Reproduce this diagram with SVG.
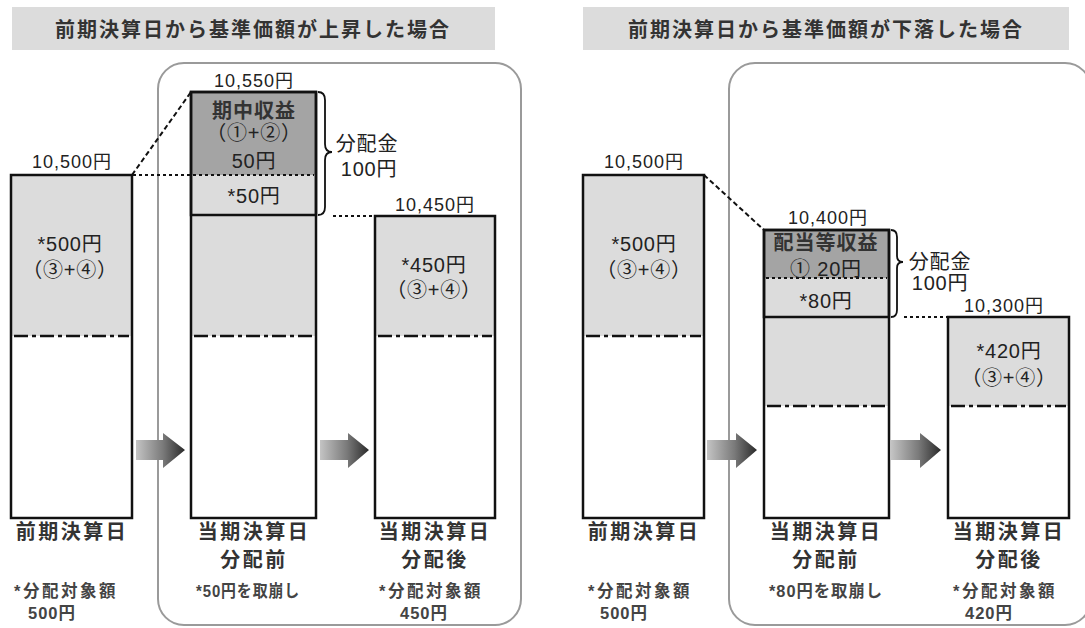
<svg xmlns="http://www.w3.org/2000/svg" width="1085" height="628" viewBox="0 0 1085 628">
<defs>
<linearGradient id="ag" x1="0" y1="0" x2="1" y2="0">
<stop offset="0" stop-color="#c4c4c4"/>
<stop offset="0.55" stop-color="#7a7a7a"/>
<stop offset="1" stop-color="#2a2a2a"/>
</linearGradient>
<style>
text{font-family:"Liberation Sans","Noto Sans CJK JP",sans-serif;fill:#222;text-anchor:middle}
.title{font-size:20px;font-weight:bold;letter-spacing:2px;fill:#333}
.num{font-size:18px;letter-spacing:1px}
.lbl{font-size:20px;font-weight:bold;letter-spacing:1px;fill:#333}
.in{font-size:20px;letter-spacing:0.8px}
.bot{font-size:20px;font-weight:bold;letter-spacing:2.5px;fill:#333}
.note{font-size:16.5px;font-weight:bold;letter-spacing:2.5px;fill:#444;text-anchor:start}
.nn{font-size:16.5px;font-weight:bold;letter-spacing:1px;fill:#444;text-anchor:start}
.tbar{fill:#dcdcdc}
.panel{fill:#fff;stroke:#9a9a9a;stroke-width:2}
.lg{fill:#dcdcdc}
.dg{fill:#a4a4a4}
.box{fill:none;stroke:#111;stroke-width:2.5}
.dd{stroke:#111;stroke-width:2.5;stroke-dasharray:14 4 4 4}
.dot{stroke:#111;stroke-width:2;stroke-dasharray:3 3;fill:none}
.dash{stroke:#111;stroke-width:2;stroke-dasharray:5 3;fill:none}
.brace{fill:none;stroke:#111;stroke-width:1.8}
.arrow{fill:url(#ag)}
</style>
</defs>

<g id="title-left"><rect class="tbar" x="12" y="7" width="483" height="43"/><text class="title" x="253" y="37">前期決算日から基準価額が上昇した場合</text></g>
<g id="title-right"><rect class="tbar" x="583" y="7" width="486" height="43"/><text class="title" x="826" y="37">前期決算日から基準価額が下落した場合</text></g>

<g id="panel-left"><rect class="panel" x="158" y="63" width="363" height="562" rx="26"/></g>
<g id="panel-right"><rect class="panel" x="729" y="63" width="362" height="562" rx="26"/></g>

<!-- LEFT SIDE -->
<g id="L-prev">
<rect class="lg" x="11" y="175" width="121" height="161"/>
<rect fill="#fff" x="11" y="336" width="121" height="182"/>
<line class="dd" x1="14" y1="336" x2="129" y2="336"/>
<rect class="box" x="11" y="175" width="121" height="343"/>
<text class="num" x="72" y="168">10,500円</text>
<text class="in" x="70" y="251">*500円</text>
<text class="in" x="70" y="277">（③+④）</text>
<text class="bot" x="72" y="539">前期決算日</text>
<text class="note" x="14" y="597">*分配対象額</text>
<text class="nn" x="28" y="619">500円</text>
</g>

<g id="L-before">
<rect class="dg" x="191" y="92" width="125" height="83"/>
<rect class="lg" x="191" y="175" width="125" height="161"/>
<rect fill="#fff" x="191" y="336" width="125" height="182"/>
<line class="dot" x1="193" y1="175" x2="314" y2="175"/>
<line class="dd" x1="194" y1="336" x2="313" y2="336"/>
<rect class="box" x="191" y="92" width="125" height="426"/>
<rect class="box" x="191" y="92" width="125" height="123"/>
<text class="num" x="254" y="87">10,550円</text>
<text class="lbl" x="254" y="118">期中収益</text>
<text class="in" x="254" y="140">（①+②）</text>
<text class="in" x="254" y="168">50円</text>
<text class="in" x="254" y="203">*50円</text>
<path class="brace" d="M318,92 Q325,92 325,100 L325,144 Q325,152 332,152 Q325,152 325,160 L325,207 Q325,215 318,215"/>
<text class="in" x="367" y="151">分配金</text>
<text class="in" x="369" y="176">100円</text>
<text class="bot" x="254" y="539">当期決算日</text>
<text class="bot" x="254" y="567">分配前</text>
<text class="nn" x="196" y="597" textLength="104" lengthAdjust="spacingAndGlyphs">*50円を取崩し</text>
</g>

<g id="L-after">
<rect class="lg" x="375" y="216" width="120" height="120"/>
<rect fill="#fff" x="375" y="336" width="120" height="182"/>
<line class="dd" x1="378" y1="336" x2="492" y2="336"/>
<rect class="box" x="375" y="216" width="120" height="302"/>
<text class="num" x="435" y="211">10,450円</text>
<text class="in" x="434" y="272">*450円</text>
<text class="in" x="434" y="297">（③+④）</text>
<text class="bot" x="435" y="539">当期決算日</text>
<text class="bot" x="435" y="567">分配後</text>
<text class="note" x="379" y="597">*分配対象額</text>
<text class="nn" x="400" y="619">450円</text>
</g>

<!-- RIGHT SIDE -->
<g id="R-prev">
<rect class="lg" x="583" y="175" width="121" height="161"/>
<rect fill="#fff" x="583" y="336" width="121" height="182"/>
<line class="dd" x1="586" y1="336" x2="701" y2="336"/>
<rect class="box" x="583" y="175" width="121" height="343"/>
<text class="num" x="644" y="168">10,500円</text>
<text class="in" x="644" y="251">*500円</text>
<text class="in" x="644" y="277">（③+④）</text>
<text class="bot" x="644" y="539">前期決算日</text>
<text class="note" x="588" y="597">*分配対象額</text>
<text class="nn" x="600" y="619">500円</text>
</g>

<g id="R-before">
<rect class="dg" x="764" y="230" width="125" height="48"/>
<rect class="lg" x="764" y="278" width="125" height="128"/>
<rect fill="#fff" x="764" y="406" width="125" height="112"/>
<line class="dot" x1="766" y1="278" x2="887" y2="278"/>
<line class="dd" x1="767" y1="406" x2="886" y2="406"/>
<rect class="box" x="764" y="230" width="125" height="288"/>
<rect class="box" x="764" y="230" width="125" height="87"/>
<text class="num" x="828" y="224">10,400円</text>
<text class="lbl" x="826" y="250">配当等収益</text>
<text class="in" x="826" y="276">①  20円</text>
<text class="in" x="826" y="308">*80円</text>
<path class="brace" d="M891,230 Q897,230 897,237 L897,256 Q897,262 903,262 Q897,262 897,268 L897,310 Q897,317 891,317"/>
<text class="in" x="940" y="269">分配金</text>
<text class="in" x="940" y="290">100円</text>
<text class="bot" x="826" y="539">当期決算日</text>
<text class="bot" x="826" y="567">分配前</text>
<text class="nn" x="769" y="597" textLength="114" lengthAdjust="spacingAndGlyphs">*80円を取崩し</text>
</g>

<g id="R-after">
<rect class="lg" x="948" y="317" width="121" height="89"/>
<rect fill="#fff" x="948" y="406" width="121" height="112"/>
<line class="dd" x1="951" y1="406" x2="1066" y2="406"/>
<rect class="box" x="948" y="317" width="121" height="201"/>
<text class="num" x="1004" y="312">10,300円</text>
<text class="in" x="1009" y="358">*420円</text>
<text class="in" x="1009" y="385">（③+④）</text>
<text class="bot" x="1009" y="539">当期決算日</text>
<text class="bot" x="1009" y="567">分配後</text>
<text class="note" x="953" y="597">*分配対象額</text>
<text class="nn" x="965" y="619">420円</text>
</g>

<g id="connectors">
<line class="dot" x1="133" y1="175" x2="191" y2="175"/>
<line class="dash" x1="132" y1="175" x2="191" y2="92"/>
<line class="dot" x1="333" y1="216" x2="375" y2="216"/>
<line class="dash" x1="704" y1="175" x2="764" y2="230"/>
<line class="dot" x1="904" y1="317" x2="948" y2="317"/>
<polygon class="arrow" points="136,440 163,440 163,433 185,450 163,468 163,460 136,460"/>
<polygon class="arrow" points="320,440 348,440 348,433 369,450 348,468 348,460 320,460"/>
<polygon class="arrow" points="707,440 736,440 736,433 757,450 736,468 736,460 707,460"/>
<polygon class="arrow" points="891,440 920,440 920,433 941,450 920,468 920,460 891,460"/>
</g>
</svg>
